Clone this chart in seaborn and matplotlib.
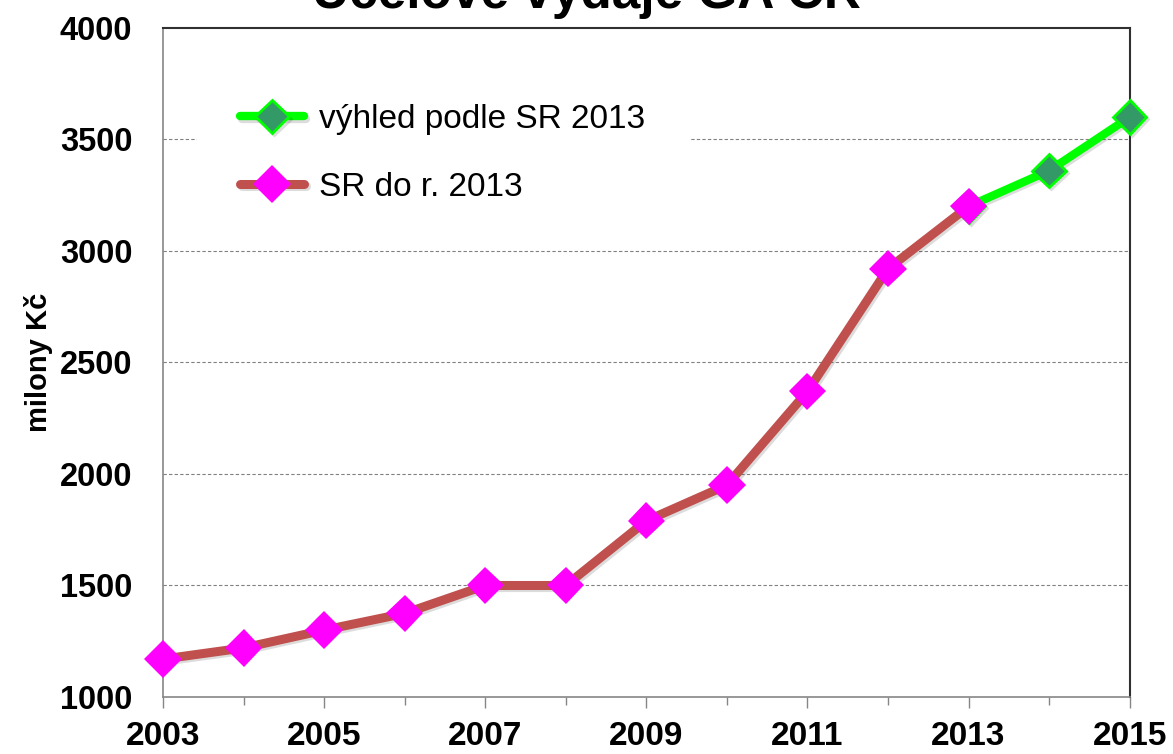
import matplotlib
matplotlib.use("Agg")
import matplotlib.pyplot as plt
import matplotlib.patheffects as pe
from matplotlib.ticker import FixedLocator
import seaborn as sns
import pandas as pd

years_hist = [2003, 2004, 2005, 2006, 2007, 2008, 2009, 2010, 2011, 2012, 2013]
values_hist = [1170, 1220, 1300, 1375, 1500, 1500, 1790, 1950, 2370, 2920, 3200]
years_outlook = [2013, 2014, 2015]
values_outlook = [3200, 3360, 3600]
label_outlook = "výhled podle SR 2013"
label_hist = "SR do r. 2013"
title = "Účelové výdaje GA ČR"
ylabel = "milony Kč"
yticks = [1000, 1500, 2000, 2500, 3000, 3500, 4000]
xticklabels_years = [2003, 2005, 2007, 2009, 2011, 2013, 2015]
xminor_years = [2004, 2006, 2008, 2010, 2012, 2014]

sns.set_theme(style="white")
plt.rcParams['font.family'] = ['Liberation Sans', 'DejaVu Sans']
plt.rcParams['text.color'] = 'black'
plt.rcParams['axes.labelcolor'] = 'black'
plt.rcParams['xtick.color'] = 'black'
plt.rcParams['ytick.color'] = 'black'

fig = plt.figure(figsize=(11.73, 7.54), dpi=100)
ax = fig.add_axes([0.139, 0.0756, 0.824, 0.8873])

df_hist = pd.DataFrame({"year": years_hist, "value": values_hist})
df_out = pd.DataFrame({"year": years_outlook, "value": values_outlook})

shadow = [pe.SimpleLineShadow(offset=(1.5, -1.5), alpha=0.15), pe.Normal()]

sns.lineplot(data=df_out, x="year", y="value", ax=ax, color="#00FF00", linewidth=6,
             marker="D", markersize=17, markerfacecolor="#339966",
             markeredgecolor="#00FF00", markeredgewidth=2, label=label_outlook,
             zorder=3, path_effects=shadow, clip_on=False)
sns.lineplot(data=df_hist, x="year", y="value", ax=ax, color="#C0504D", linewidth=6.5,
             marker="D", markersize=19, markerfacecolor="#FF00FF",
             markeredgecolor="#FF00FF", markeredgewidth=0, label=label_hist,
             zorder=4, path_effects=shadow, clip_on=False)

ax.set_xlim(2003, 2015)
ax.set_ylim(1000, 4000)
ax.set_yticks(yticks)
ax.set_xticks(xticklabels_years)
ax.set_xticklabels([str(y) for y in xticklabels_years])
ax.xaxis.set_minor_locator(FixedLocator(xminor_years))
ax.set_xlabel("")
ax.set_ylabel(ylabel, fontsize=21, fontweight="bold", labelpad=5)

for y in yticks[1:-1]:
    ax.axhline(y, color="#808080", linestyle=(0, (3, 2)), linewidth=0.8, zorder=1)

for s in ["left", "bottom"]:
    ax.spines[s].set_color("#868686")
    ax.spines[s].set_linewidth(1.2)
for s in ["top", "right"]:
    ax.spines[s].set_color("#303030")
    ax.spines[s].set_linewidth(1.5)

ax.tick_params(axis="x", which="major", direction="out", length=8, width=1,
               color="#868686", labelcolor="black", pad=9, labelsize=24, bottom=True)
ax.tick_params(axis="x", which="minor", direction="out", length=6, width=1,
               color="#868686", bottom=True)
ax.tick_params(axis="y", length=0, pad=22, labelsize=23.5, labelcolor="black")
for lab in ax.get_xticklabels() + ax.get_yticklabels():
    lab.set_fontweight("bold")

leg = ax.legend(loc="upper left", bbox_to_anchor=(0.035, 0.951), frameon=True,
                facecolor="white", edgecolor="white", framealpha=1,
                fontsize=24, labelspacing=1.1, handlelength=1.9, handletextpad=0.45,
                borderpad=1.3, borderaxespad=0)
leg.set_zorder(5)
for t in leg.get_texts():
    t.set_color("black")

fig.text(0.5, 0.9894, title, ha="center", va="baseline", fontsize=37, fontweight="bold")

fig.savefig("out.png", dpi=100)
